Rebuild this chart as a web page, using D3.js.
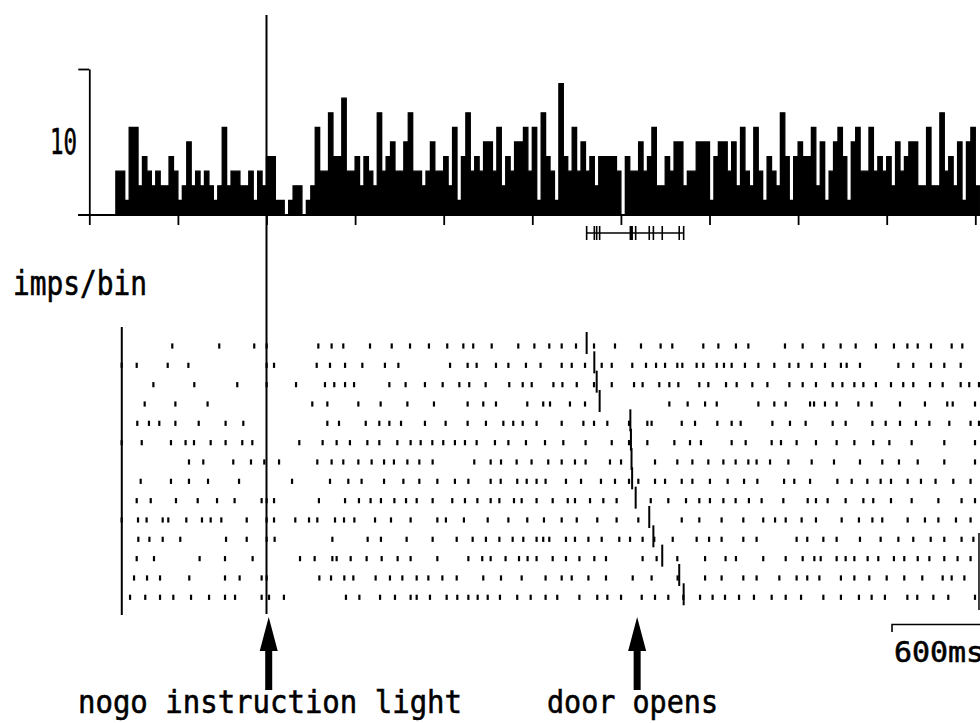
<!DOCTYPE html>
<html>
<head>
<meta charset="utf-8">
<script src="https://cdn.jsdelivr.net/npm/d3@7"></script>
<style>
body { margin: 0; background: #fff; }
text { font-family: "DejaVu Sans Mono", monospace; fill: #000; stroke: #000; stroke-width: 0.6; }
</style>
</head>
<body>
<div id="chart"></div>
<script>
// histogram, 30 ms bins from 0 ms
const binMs = 30;
const counts = [
  0, 0, 0, 0, 0, 0, 6, 6, 2, 12,
  12, 4, 8, 6, 4, 6, 4, 4, 8, 6,
  2, 4, 10, 4, 6, 4, 6, 4, 2, 4,
  12, 4, 6, 6, 4, 4, 6, 2, 6, 4,
  8, 8, 2, 2, 0, 2, 4, 4, 0, 2,
  4, 12, 6, 6, 14, 8, 8, 16, 6, 6,
  8, 4, 8, 6, 4, 14, 6, 8, 10, 6,
  6, 10, 14, 6, 6, 4, 6, 10, 6, 6,
  8, 4, 12, 2, 8, 14, 6, 8, 6, 10,
  10, 6, 12, 4, 8, 6, 10, 10, 12, 6,
  12, 2, 14, 8, 6, 2, 18, 8, 6, 12,
  6, 10, 6, 8, 4, 8, 8, 8, 8, 6,
  0, 8, 6, 6, 10, 6, 8, 12, 4, 4,
  8, 6, 10, 10, 4, 6, 6, 10, 10, 10,
  2, 8, 10, 10, 6, 10, 4, 12, 6, 4,
  12, 6, 2, 8, 6, 4, 14, 8, 2, 8,
  10, 8, 8, 12, 4, 10, 2, 6, 10, 12,
  8, 2, 10, 12, 6, 6, 12, 6, 8, 6,
  8, 4, 10, 6, 8, 10, 10, 4, 4, 12,
  4, 4, 14, 6, 8, 4, 10, 2, 10, 12,
  4
];
const yTicks = [20];
const yLabel = 10;
const timeTicks = d3.range(0, 6001, 600);

const lightTime = 1200;
const doorArrowTime = 3710;
const rasterStart = 220;
const rasterEnd = 6025;
const scaleBarStart = 5436;
const scaleBarMs = 600;

// door opening time per trial
const doorTimes = [3368, 3420, 3436, 3456, 3664, 3668, 3672, 3676, 3700, 3792, 3820, 3880, 3995, 4025];

// spike times (ms) per trial
const spikes = [
  [562, 880, 1117, 1201, 1551, 1641, 1720, 1901, 2048, 2172, 2300, 2424, 2533, 2600, 2725, 2905, 3014, 3115, 3199, 3296, 3418, 3560, 3736, 3869, 3948, 4158, 4260, 4379, 4463, 4711, 4831, 4971, 5088, 5190, 5327, 5449, 5540, 5610, 5700, 5840, 5912],
  [219, 321, 531, 671, 1201, 1251, 1540, 1630, 1732, 1849, 2002, 2093, 2443, 2562, 2623, 2754, 2838, 2957, 3056, 3199, 3267, 3357, 3470, 3538, 3677, 3770, 3838, 3899, 3982, 4016, 4113, 4158, 4249, 4298, 4350, 4440, 4531, 4639, 4741, 4802, 4892, 4982, 5090, 5129, 5219, 5479, 5580, 5700, 5790, 5901],
  [434, 711, 1002, 1201, 1400, 1596, 1659, 1732, 1793, 2032, 2142, 2273, 2393, 2506, 2573, 2684, 2844, 2935, 2996, 3143, 3204, 3301, 3418, 3538, 3689, 3747, 3860, 3928, 3989, 4131, 4192, 4312, 4384, 4490, 4592, 4741, 4831, 4921, 5034, 5100, 5181, 5242, 5327, 5429, 5512, 5580, 5693, 5779, 5901, 5959, 6025],
  [375, 583, 801, 1510, 1612, 1822, 1973, 2154, 2334, 2562, 2668, 2754, 2966, 3074, 3120, 3255, 3357, 3928, 4052, 4170, 4249, 4531, 4639, 4716, 4881, 4908, 4982, 5061, 5208, 5298, 5490, 5659, 5810, 5847, 5998],
  [325, 404, 474, 583, 741, 923, 1043, 1612, 1691, 1872, 1964, 2032, 2111, 2273, 2413, 2562, 2686, 2804, 2871, 2935, 3029, 3199, 3346, 3418, 3508, 3655, 3779, 3808, 4012, 4102, 4253, 4350, 4411, 4626, 4745, 4851, 5034, 5122, 5303, 5393, 5490, 5598, 5689, 5824, 5968, 6025],
  [219, 355, 553, 652, 709, 822, 923, 1036, 1104, 1422, 1580, 1675, 1765, 1883, 1964, 2086, 2176, 2244, 2323, 2397, 2476, 2544, 2623, 2747, 2838, 2957, 3086, 3210, 3361, 3538, 3655, 3779, 3962, 4068, 4142, 4350, 4445, 4621, 4684, 4790, 4921, 5061, 5181, 5309, 5418, 5569, 5790, 5998],
  [675, 772, 975, 1095, 1185, 1285, 1544, 1641, 1720, 1822, 1912, 1996, 2063, 2154, 2235, 2325, 2607, 2718, 2788, 2894, 2995, 3108, 3199, 3289, 3361, 3526, 3601, 3831, 3982, 4084, 4192, 4294, 4377, 4463, 4519, 4610, 4734, 4892, 5043, 5219, 5370, 5483, 5610, 5790, 5998],
  [348, 553, 675, 804, 1014, 1373, 1630, 1754, 1844, 1996, 2127, 2235, 2357, 2476, 2567, 2718, 2786, 2898, 2962, 3029, 3090, 3228, 3330, 3465, 3560, 3655, 3718, 3831, 3899, 4012, 4084, 4203, 4323, 4434, 4524, 4705, 4774, 4881, 5066, 5163, 5269, 5359, 5429, 5542, 5632, 5731, 5851, 5968],
  [321, 416, 587, 734, 865, 984, 1167, 1201, 1251, 1555, 1732, 1826, 1905, 1975, 2066, 2145, 2217, 2325, 2458, 2544, 2628, 2718, 2777, 2876, 2928, 3029, 3138, 3240, 3289, 3391, 3481, 3571, 3802, 3921, 4041, 4131, 4203, 4294, 4377, 4467, 4553, 4700, 4865, 4921, 5000, 5122, 5242, 5309, 5429, 5569, 5750, 5907, 5998],
  [219, 330, 388, 497, 535, 657, 763, 822, 894, 1066, 1201, 1251, 1395, 1488, 1544, 1664, 1725, 1795, 1935, 2043, 2176, 2357, 2415, 2537, 2698, 2838, 2966, 3079, 3199, 3301, 3440, 3571, 3718, 4012, 4131, 4282, 4429, 4564, 4644, 4716, 4824, 4921, 5095, 5212, 5303, 5370, 5542, 5659, 5750, 5869, 5968],
  [332, 407, 497, 616, 926, 1066, 1201, 1255, 1646, 1885, 1975, 2149, 2325, 2488, 2596, 2686, 2777, 2867, 2939, 3029, 3074, 3115, 3228, 3289, 3380, 3470, 3589, 3662, 3747, 3826, 3951, 4113, 4197, 4282, 4429, 4519, 4790, 4862, 4971, 5061, 5219, 5359, 5479, 5580, 5698, 5790, 5907, 5987],
  [321, 438, 747, 919, 1106, 1427, 1526, 1646, 1675, 1770, 1878, 1980, 2088, 2176, 2357, 2567, 2661, 2718, 2819, 2910, 2968, 3029, 3138, 3228, 3319, 3420, 3499, 3747, 3842, 3982, 4170, 4309, 4379, 4564, 4716, 4831, 4910, 4953, 5061, 5122, 5181, 5271, 5343, 5449, 5519, 5610, 5689, 5790, 5880, 5968],
  [303, 391, 479, 677, 919, 1018, 1167, 1201, 1558, 1637, 1727, 1788, 1939, 2036, 2120, 2217, 2296, 2391, 2488, 2668, 2788, 2928, 3090, 3199, 3267, 3380, 3499, 3680, 3808, 3984, 4170, 4282, 4429, 4519, 4673, 4790, 4862, 4944, 5090, 5181, 5282, 5400, 5519, 5641, 5779, 5840, 5926],
  [276, 379, 479, 569, 689, 811, 919, 987, 1167, 1217, 1318, 1738, 1829, 1969, 2070, 2176, 2217, 2307, 2420, 2492, 2567, 2630, 2698, 2781, 2898, 2989, 3090, 3169, 3319, 3440, 3508, 3601, 3741, 3831, 3921, 4023, 4136, 4221, 4305, 4400, 4501, 4621, 4716, 4820, 4971, 5090, 5212, 5298, 5388, 5540, 5607, 5716, 5817, 5998]
];

const width = 980;
const height = 723;

const svg = d3.select("#chart")
  .append("svg")
  .attr("width", width)
  .attr("height", height);

const x = d3.scaleLinear()
  .domain([0, 6000])
  .range([89.3, 975.3]);

const y = d3.scaleLinear()
  .domain([0, 20])
  .range([215, 69]);

const row = d3.scalePoint()
  .domain(d3.range(spikes.length))
  .range([346, 597.3]);

// histogram
const bins = counts.map((c, i) => ({ t: i * binMs, c: c }));
bins.push({ t: counts.length * binMs, c: counts[counts.length - 1] });

const area = d3.area()
  .curve(d3.curveStepAfter)
  .x(d => x(d.t))
  .y0(y(0))
  .y1(d => y(d.c));

svg.append("path")
  .datum(bins)
  .attr("d", area)
  .attr("fill", "#000")
  .attr("stroke", "#000")
  .attr("stroke-width", 1.3);

// x-axis ticks and baseline
svg.append("g")
  .attr("transform", `translate(0,${y(0)})`)
  .call(d3.axisBottom(x).tickValues(timeTicks).tickFormat("").tickSize(10).tickSizeOuter(0))
  .call(g => g.select(".domain").remove())
  .call(g => g.selectAll("line").attr("stroke", "#000").attr("stroke-width", 1.8));

svg.append("line")
  .attr("x1", 78).attr("x2", width)
  .attr("y1", y(0)).attr("y2", y(0))
  .attr("stroke", "#000")
  .attr("stroke-width", 2);

// y-axis
svg.append("g")
  .attr("transform", `translate(${x(0)},0)`)
  .call(d3.axisLeft(y).tickValues(yTicks).tickFormat("").tickSize(11).tickSizeOuter(0))
  .call(g => g.select(".domain").attr("stroke", "#000").attr("stroke-width", 1.8))
  .call(g => g.selectAll("line").attr("stroke", "#000").attr("stroke-width", 1.8));

svg.append("text")
  .attr("x", 77)
  .attr("y", y(yLabel) + 12)
  .attr("text-anchor", "end")
  .attr("font-size", 35)
  .attr("textLength", 27)
  .attr("lengthAdjust", "spacingAndGlyphs")
  .text(yLabel);

svg.append("text")
  .attr("x", 13)
  .attr("y", 295)
  .attr("font-size", 34)
  .attr("textLength", 134)
  .attr("lengthAdjust", "spacingAndGlyphs")
  .text("imps/bin");

// door opening spread under the histogram
svg.append("line")
  .attr("x1", x(d3.min(doorTimes))).attr("x2", x(d3.max(doorTimes)))
  .attr("y1", 233).attr("y2", 233)
  .attr("stroke", "#000")
  .attr("stroke-width", 1.5);

svg.selectAll(".doorbar")
  .data(doorTimes)
  .enter()
  .append("line")
  .attr("x1", d => x(d)).attr("x2", d => x(d))
  .attr("y1", 226).attr("y2", 240)
  .attr("stroke", "#000")
  .attr("stroke-width", 1.6);

// raster
spikes.forEach((times, i) => {
  svg.append("g")
    .selectAll("line")
    .data(times)
    .enter()
    .append("line")
    .attr("x1", d => x(d)).attr("x2", d => x(d))
    .attr("y1", row(i) - 2.6).attr("y2", row(i) + 2.6)
    .attr("stroke", "#000")
    .attr("stroke-width", 2.2);
});

svg.selectAll(".door")
  .data(doorTimes)
  .enter()
  .append("line")
  .attr("x1", d => x(d)).attr("x2", d => x(d))
  .attr("y1", (d, i) => row(i) - 14).attr("y2", (d, i) => row(i) + 8)
  .attr("stroke", "#000")
  .attr("stroke-width", 2);

svg.append("line")
  .attr("x1", x(rasterStart)).attr("x2", x(rasterStart))
  .attr("y1", 327).attr("y2", 615)
  .attr("stroke", "#000")
  .attr("stroke-width", 2);

svg.append("line")
  .attr("x1", x(rasterEnd)).attr("x2", x(rasterEnd))
  .attr("y1", 533).attr("y2", 610)
  .attr("stroke", "#000")
  .attr("stroke-width", 1.5);

// nogo light line
svg.append("line")
  .attr("x1", x(lightTime)).attr("x2", x(lightTime))
  .attr("y1", 15).attr("y2", 614)
  .attr("stroke", "#000")
  .attr("stroke-width", 2);

// arrows
const arrow = t => {
  const cx = x(t);
  return [[cx, 617], [cx + 9, 651], [cx + 3.5, 651], [cx + 3.5, 690],
    [cx - 3.5, 690], [cx - 3.5, 651], [cx - 9, 651]];
};

svg.selectAll(".arrow")
  .data([lightTime + 15, doorArrowTime])
  .enter()
  .append("path")
  .attr("d", d => "M" + arrow(d).join("L") + "Z")
  .attr("fill", "#000");

svg.append("text")
  .attr("x", 78)
  .attr("y", 713)
  .attr("font-size", 32)
  .attr("textLength", 384)
  .attr("lengthAdjust", "spacingAndGlyphs")
  .text("nogo instruction light");

svg.append("text")
  .attr("x", 547)
  .attr("y", 713)
  .attr("font-size", 32)
  .attr("textLength", 171)
  .attr("lengthAdjust", "spacingAndGlyphs")
  .text("door opens");

// scale bar
svg.append("path")
  .attr("d", `M${x(scaleBarStart)},632V624.5H${x(scaleBarStart + scaleBarMs)}`)
  .attr("fill", "none")
  .attr("stroke", "#000")
  .attr("stroke-width", 1.6);

svg.append("text")
  .attr("x", 894)
  .attr("y", 662)
  .attr("font-size", 29)
  .attr("textLength", 90)
  .attr("lengthAdjust", "spacingAndGlyphs")
  .text("600ms");
</script>
</body>
</html>
